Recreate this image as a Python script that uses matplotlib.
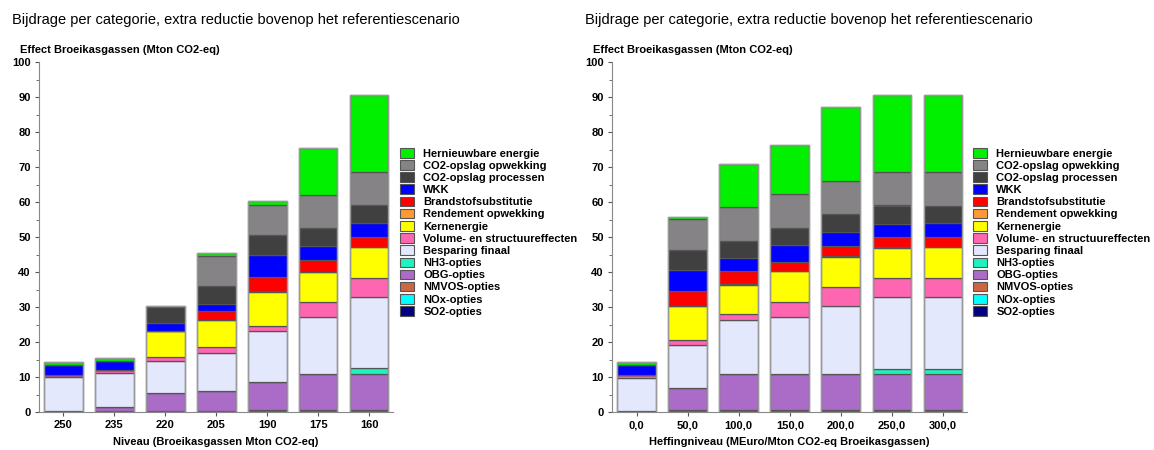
import numpy as np
import matplotlib
matplotlib.use("Agg")
import matplotlib.pyplot as plt
from matplotlib.patches import Patch

plt.rcParams['font.family'] = ['Liberation Sans', 'DejaVu Sans']
plt.rcParams['font.weight'] = 'bold'

title = "Bijdrage per categorie, extra reductie bovenop het referentiescenario"
ylabel = "Effect Broeikasgassen (Mton CO2-eq)"

# categories, bottom of the stack first
categories = ["SO2-opties", "NOx-opties", "NMVOS-opties", "OBG-opties", "NH3-opties",
              "Besparing finaal", "Volume- en structuureffecten", "Kernenergie",
              "Rendement opwekking", "Brandstofsubstitutie", "WKK",
              "CO2-opslag processen", "CO2-opslag opwekking", "Hernieuwbare energie"]
colors = ["#000080", "#00FFFF", "#CC6644", "#AA6CC6", "#1EF2C0",
          "#E4E8FC", "#FF66B2", "#FFFF00",
          "#FF9933", "#FF0000", "#0000FF",
          "#404040", "#858385", "#00F000"]

# left chart: Niveau (Broeikasgassen Mton CO2-eq)
niv_labels = ["250", "235", "220", "205", "190", "175", "160"]
niv_so2 = [0.1, 0.1, 0.1, 0.2, 0.2, 0.2, 0.2]
niv_nox = [0.1, 0.1, 0.1, 0.2, 0.3, 0.3, 0.3]
niv_nmvos = [0, 0, 0, 0, 0, 0, 0]
niv_obg = [0, 1.2, 5.2, 5.7, 8.1, 10.5, 10.5]
niv_nh3 = [0, 0, 0, 0, 0, 0, 1.6]
niv_besparing = [9.7, 9.7, 9.25, 10.7, 14.6, 16.1, 20.2]
niv_volume = [0.8, 0.8, 0.95, 1.75, 1.5, 4.2, 5.45]
niv_kern = [0, 0, 7.6, 7.65, 9.55, 8.6, 8.85]
niv_rendement = [0, 0, 0, 0, 0.4, 0.2, 0.1]
niv_brandstof = [0, 0, 0, 2.7, 4.05, 3.2, 2.7]
niv_wkk = [2.8, 2.75, 2.2, 2.1, 6.1, 4.2, 4.1]
niv_co2_proc = [0, 0, 4.5, 5.0, 5.8, 5.1, 5.2]
niv_co2_opw = [0, 0, 0, 8.7, 8.6, 9.5, 9.3]
niv_hernieuwbaar = [0.7, 0.65, 0.5, 0.7, 1.2, 13.3, 22.0]

# right chart: Heffingniveau (MEuro/Mton CO2-eq Broeikasgassen)
hef_labels = ["0,0", "50,0", "100,0", "150,0", "200,0", "250,0", "300,0"]
hef_so2 = [0.1, 0.2, 0.2, 0.2, 0.2, 0.2, 0.2]
hef_nox = [0.1, 0.3, 0.3, 0.3, 0.3, 0.3, 0.3]
hef_nmvos = [0, 0, 0, 0, 0, 0, 0]
hef_obg = [0, 6.4, 10.4, 10.4, 10.4, 10.4, 10.4]
hef_nh3 = [0, 0, 0, 0, 0, 1.4, 1.4]
hef_besparing = [9.5, 12.3, 15.4, 16.3, 19.3, 20.6, 20.7]
hef_volume = [0.75, 1.4, 1.6, 4.3, 5.5, 5.3, 5.4]
hef_kern = [0, 9.7, 8.5, 8.7, 8.7, 8.7, 8.7]
hef_rendement = [0, 0, 0.3, 0.2, 0.2, 0.1, 0.1]
hef_brandstof = [0, 4.2, 3.5, 2.6, 2.7, 2.9, 2.8]
hef_wkk = [3.05, 6.2, 3.8, 4.7, 4.2, 3.9, 3.9]
hef_co2_proc = [0, 5.7, 4.9, 4.8, 5.0, 5.2, 5.1]
hef_co2_opw = [0, 8.7, 9.7, 9.8, 9.4, 9.5, 9.5]
hef_hernieuwbaar = [0.65, 0.7, 12.3, 13.9, 21.2, 22.2, 22.2]

niv_series = [niv_so2, niv_nox, niv_nmvos, niv_obg, niv_nh3, niv_besparing, niv_volume,
              niv_kern, niv_rendement, niv_brandstof, niv_wkk, niv_co2_proc, niv_co2_opw,
              niv_hernieuwbaar]
hef_series = [hef_so2, hef_nox, hef_nmvos, hef_obg, hef_nh3, hef_besparing, hef_volume,
              hef_kern, hef_rendement, hef_brandstof, hef_wkk, hef_co2_proc, hef_co2_opw,
              hef_hernieuwbaar]

W, H = 1154, 450
fig = plt.figure(figsize=(W / 100, H / 100), dpi=100)


def draw(x0, x1, labels, series, xlabel, tx, lx):
    ax = fig.add_axes([x0 / W, (H - 412) / H, (x1 - x0) / W, 350 / H])
    x = np.arange(len(labels))
    bottom = np.zeros(len(labels))
    for vals, c in zip(series, colors):
        vals = np.array(vals, dtype=float)
        ax.bar(x, vals, 0.76, bottom=bottom, color=c, edgecolor="#555555", linewidth=0.9)
        bottom += vals
    # outline of the whole bar
    ax.bar(x, bottom, 0.76, fill=False, edgecolor="#999999", linewidth=1.0)
    ax.set_xlim(-0.48, 6.47)
    ax.set_ylim(0, 100)
    ax.set_yticks(np.arange(0, 101, 10))
    ax.set_yticks(np.arange(0, 101, 5), minor=True)
    ax.set_xticks(x)
    ax.set_xticklabels(labels)
    ax.tick_params(labelsize=8, length=3, color="#555555", pad=3)
    ax.tick_params(which="minor", length=2, color="#555555")
    for s in ["top", "right"]:
        ax.spines[s].set_visible(False)
    for s in ["left", "bottom"]:
        ax.spines[s].set_color("#888888")
    ax.set_xlabel(xlabel, fontsize=8, fontweight="bold", labelpad=5)
    fig.text(tx / W, 1 - 20 / H, title, fontsize=10.5, fontweight="normal", va="center")
    fig.text((tx + 8) / W, 1 - 50 / H, ylabel, fontsize=8, fontweight="bold", va="center")
    handles = [Patch(facecolor=c, edgecolor="#555555", linewidth=0.8) for c in colors]
    fig.legend(handles[::-1], categories[::-1], loc="upper left",
               bbox_to_anchor=(lx / W, 1 - 148 / H), frameon=False,
               prop={"size": 8, "weight": "bold"}, handlelength=1.3, handleheight=0.95,
               handletextpad=0.8, labelspacing=0.14, borderpad=0, borderaxespad=0)
    return ax


draw(39, 393, niv_labels, niv_series, "Niveau (Broeikasgassen Mton CO2-eq)", 12, 400)
draw(612, 967, hef_labels, hef_series, "Heffingniveau (MEuro/Mton CO2-eq Broeikasgassen)", 585, 973)

fig.savefig("out.png", dpi=100)
